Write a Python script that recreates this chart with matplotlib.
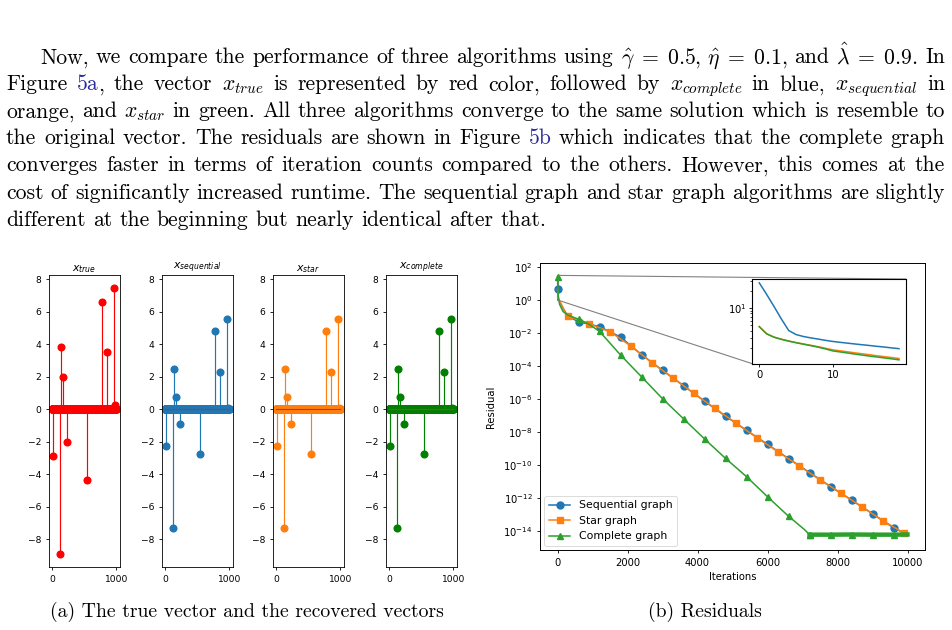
import matplotlib
matplotlib.use('Agg')
import matplotlib.pyplot as plt
import numpy as np
from mpl_toolkits.axes_grid1.inset_locator import mark_inset

W, H = 952, 630
fig = plt.figure(figsize=(W / 100, H / 100), dpi=100)

# ---------------- data ----------------
n = 1000
spike_idx = [10, 120, 130, 173, 230, 545, 770, 853, 963, 975]
true_vals = [-2.9, -8.9, 3.85, 2.0, -2.0, -4.35, 6.6, 3.5, 7.45, 0.25]
rec_vals = [-2.25, -7.3, 2.45, 0.75, -0.9, -2.75, 4.85, 2.3, 5.55, 0.05]

seq_it = [0, 20, 150, 300, 600, 1200, 1800, 2400, 3000, 3600, 4200, 4800, 5400,
          6000, 6600, 7200, 7800, 8400, 9000, 9600, 9900, 10000]
seq_log = [0.68, 0.11, -0.45, -0.98, -1.30, -1.60, -2.23, -3.30, -4.25, -5.18, -6.12,
           -7.03, -7.89, -8.74, -9.60, -10.45, -11.30, -12.12, -12.95, -13.80, -14.12, -14.15]

star_it = [0, 20, 120, 250, 300, 900, 1500, 2100, 2700, 3300, 3900, 4500, 5100,
           5700, 6300, 6900, 7500, 8100, 8700, 9300, 9900, 10000]
star_log = [0.67, 0.11, -0.30, -0.85, -0.98, -1.42, -1.91, -2.78, -3.79, -4.72, -5.65,
            -6.56, -7.45, -8.34, -9.19, -10.04, -10.89, -11.70, -12.53, -13.38, -14.12, -14.16]

comp_it = [0, 20, 60, 160, 300, 600, 900, 1200, 1500, 1800, 2400, 3000, 3600, 4200,
           4800, 5400, 6000, 6600, 7050, 7200]
comp_log = [1.44, 0.28, -0.25, -0.69, -0.90, -1.15, -1.45, -1.89, -2.60, -3.32, -4.64,
            -5.97, -7.19, -8.41, -9.59, -10.70, -11.92, -13.10, -13.90, -14.22]
# stagnation floor of the complete graph (drawn as a thick band)
floor_it = [7200, 7800, 8400, 9000, 9600, 10000]
floor_log = [-14.22, -14.22, -14.21, -14.22, -14.22, -14.21]

zoom_it = list(range(20))
zoom_a = [27.6, 17.3, 10.6, 6.4, 4.0, 3.4, 3.14, 2.97, 2.83, 2.69, 2.57, 2.48, 2.40,
          2.32, 2.25, 2.18, 2.11, 2.05, 1.98, 1.92]
zoom_b = [4.68, 3.5, 3.07, 2.82, 2.62, 2.46, 2.32, 2.2, 2.08, 1.95, 1.83, 1.76, 1.69,
          1.62, 1.56, 1.50, 1.44, 1.39, 1.34, 1.29]
zoom_c = [4.68, 3.5, 3.05, 2.80, 2.60, 2.44, 2.30, 2.17, 2.04, 1.90, 1.75, 1.68, 1.61,
          1.54, 1.48, 1.42, 1.37, 1.32, 1.27, 1.22]

LINK = '#2b2b9c'
para = [
    "Now, we compare the performance of three algorithms using "
    r"$\hat{\gamma}\;=\;0.5,\,\hat{\eta}\;=\;0.1,$ and $\hat{\lambda}\;=\;0.9.$ In",
    [["Figure"], [("5a", LINK), (",", "black")]] +
    r"the vector $x_{true}$ is represented by red color, followed by $x_{complete}$ in blue, $x_{sequential}$ in".split(' '),
    r"orange, and $x_{star}$ in green. All three algorithms converge to the same solution which is resemble to",
    ["the", "original", "vector.", "The", "residuals", "are", "shown", "in", "Figure", [("5b", LINK)],
     "which", "indicates", "that", "the", "complete", "graph"],
    "converges faster in terms of iteration counts compared to the others. However, this comes at the",
    "cost of significantly increased runtime. The sequential graph and star graph algorithms are slightly",
    "different at the beginning but nearly identical after that.",
]


def rect(l, t, r, b):
    return [l / W, 1 - b / H, (r - l) / W, (b - t) / H]


# ---------------- paragraph ----------------
FS = 15.6
renderer = fig.canvas.get_renderer()


def text_line(y, words, x0, x1, justify=True):
    items = []
    total = 0
    for w in words:
        if isinstance(w, str):
            segs = [(w, 'black')]
        elif isinstance(w[0], str):
            segs = [(w[0], 'black')]
        else:
            segs = w
        arts = []
        ww = 0
        for s, c in segs:
            t = fig.text(0, 1 - y / H, s, color=c, fontsize=FS, fontfamily='cmr10',
                         math_fontfamily='cm', va='baseline', ha='left')
            e = t.get_window_extent(renderer=renderer).width
            arts.append((t, e))
            ww += e
        items.append((arts, ww))
        total += ww
    gap = (x1 - x0 - total) / (len(items) - 1) if justify else FS * 100 / 72 * 0.333
    x = x0
    for arts, ww in items:
        xx = x
        for t, e in arts:
            t.set_x(xx / W)
            xx += e
        x += ww + gap


for i, line in enumerate(para):
    words = line.split(' ') if isinstance(line, str) else line
    x0 = 40 if i == 0 else 6
    text_line(63.3 + i * 27.05, words, x0, 945, justify=(i < len(para) - 1))

fig.text(246.5 / W, 1 - 616.7 / H, "(a) The true vector and the recovered vectors",
         ha='center', va='baseline', fontfamily='cmr10', fontsize=14.2)
fig.text(705 / W, 1 - 616.7 / H, "(b) Residuals",
         ha='center', va='baseline', fontfamily='cmr10', fontsize=14.2)

# ---------------- stem plots ----------------
x_true = np.zeros(n)
x_true[spike_idx] = true_vals
x_rec = np.zeros(n)
x_rec[spike_idx] = rec_vals

panels = [(r'$x_{true}$', x_true, 'r', 'r'),
          (r'$x_{sequential}$', x_rec, 'C0', 'C3'),
          (r'$x_{star}$', x_rec, 'C1', 'C3'),
          (r'$x_{complete}$', x_rec, 'g', 'C3')]
lefts = [49, 162, 273, 386]
ax0 = None
for (title, vec, col, bcol), l in zip(panels, lefts):
    a = fig.add_axes(rect(l, 275, l + 70.5, 567))
    if ax0 is None:
        ax0 = a
    else:
        a.sharey(ax0)
    ml, sl, bl = a.stem(np.arange(n), vec, linefmt=col + '-', markerfmt=col + 'o',
                        basefmt=bcol + '-')
    ml.set_markersize(4.8)
    sl.set_linewidth(0.85)
    bl.set_linewidth(0.8)
    a.set_title(title, fontsize=7.9, pad=3)
    a.set_xticks([0, 1000])
    a.set_yticks(range(-8, 9, 2))
    a.tick_params(labelsize=6.6, length=2.4, width=0.6, pad=3.3)
    for s in a.spines.values():
        s.set_linewidth(0.6)
ax0.set_ylim(-9.72, 8.27)

# ---------------- residuals ----------------
ax = fig.add_axes(rect(540, 263, 925, 550))
mk = dict(ms=5.0, lw=1.1)
ax.plot(seq_it, 10 ** np.array(seq_log), color='C0', marker='o',
        markevery=[i for i, t in enumerate(seq_it) if t % 600 == 0],
        label='Sequential graph', **mk)
ax.plot(star_it, 10 ** np.array(star_log), color='C1', marker='s',
        markevery=[i for i, t in enumerate(star_it) if t % 600 == 300],
        label='Star graph', **mk)
ax.plot(comp_it, 10 ** np.array(comp_log), color='C2', marker='^',
        markevery=[i for i, t in enumerate(comp_it) if t % 600 == 0],
        label='Complete graph', **mk)
ax.plot(floor_it, 10 ** np.array(floor_log), color='C2', marker='^',
        markevery=[0, 1, 2, 3, 4], ms=5.0, lw=3.2)
ax.set_yscale('log')
ax.set_ylim(10 ** -15.15, 10 ** 2.26)
ax.set_yticks([10.0 ** k for k in range(2, -15, -2)])
ax.yaxis.set_minor_locator(matplotlib.ticker.NullLocator())
ax.set_xticks(range(0, 10001, 2000))
ax.tick_params(labelsize=7.2, length=2.4, width=0.6, pad=3)
for s in ax.spines.values():
    s.set_linewidth(0.7)
ax.set_xlabel('Iterations', fontsize=7.2, labelpad=3)
ax.set_ylabel('Residual', fontsize=7.2, labelpad=5)
leg = ax.legend(loc='lower left', fontsize=7.8, borderaxespad=0.4)
leg.get_frame().set_linewidth(0.6)

axins = fig.add_axes(rect(752.3, 279, 906, 363.7))
axins.plot(zoom_it, zoom_a, color='C0', lw=1.1)
axins.plot(zoom_it, zoom_b, color='C1', lw=1.1)
axins.plot(zoom_it, zoom_c, color='C2', lw=1.1)
axins.set_yscale('log')
axins.yaxis.set_minor_formatter(matplotlib.ticker.NullFormatter())
axins.set_xticks([0, 10])
axins.tick_params(labelsize=7.2, length=2.4, width=0.6, pad=2)
axins.tick_params(which='minor', length=1.5, width=0.5)
for s in axins.spines.values():
    s.set_linewidth(0.8)
mark_inset(ax, axins, loc1=1, loc2=3, fc='none', ec='0.5', lw=0.8)

fig.savefig('out.png', dpi=100, facecolor='white')
